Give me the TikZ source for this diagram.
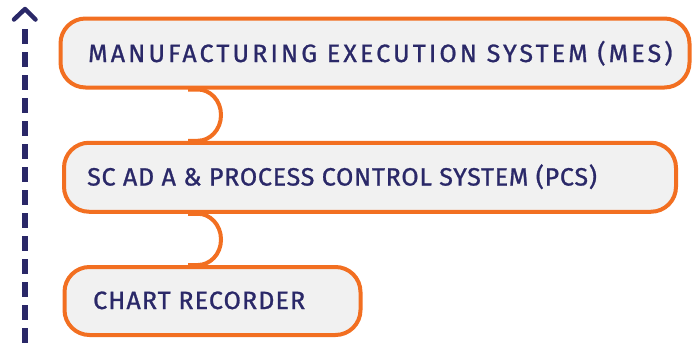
\documentclass[tikz,border=0pt]{standalone}
\usepackage{fontspec}
\setmainfont{Fira Sans}[FakeBold=0.8]
\usetikzlibrary{calc}
\definecolor{navy}{HTML}{2A2868}
\definecolor{brand}{HTML}{F26F21}
\definecolor{boxfill}{HTML}{F1F1F1}
\tikzset{
  box/.style={draw=brand, fill=boxfill, line width=4pt, rounded corners=25pt, inner sep=0pt, minimum height=69pt},
  label/.style={anchor=base west, inner sep=0pt, text=navy},
  link/.style={draw=brand, line width=4pt},
  axis/.style={draw=navy, line width=6pt, dash pattern=on 15pt off 8pt},
  tip/.style={draw=navy, line width=4.5pt, line cap=round, line join=round}
}
\newfontfamily\fmes{Fira Sans}[FakeBold=1, LetterSpace=12.6]
\newfontfamily\fpcs{Fira Sans}[FakeBold=1, LetterSpace=3.1]
\newfontfamily\fchart{Fira Sans}[FakeBold=1, LetterSpace=4.6]
\begin{document}
\begin{tikzpicture}[x=1pt,y=-1pt]
\useasboundingbox (0,0) rectangle (697,343);
% boxes
\node[box, minimum width=629pt] (b1) at (375,53) {};
\node[box, minimum width=612pt] (b2) at (370,177.25) {};
\node[box, minimum width=296pt, minimum height=68pt] (b3) at (212.5,301) {};
% connector points
\coordinate (s1) at ($(b1.south west)+(139.5,0)$);
\coordinate (k1) at (221,115);
\coordinate (e1) at ($(b2.north west)+(136,0)$);
\coordinate (s2) at ($(b2.south west)+(136,0)$);
\coordinate (k2) at (221,239.5);
\coordinate (e2) at ($(b3.north west)+(135.5,0)$);
\path[link] ($(s1)+(-10,0)$) -- (s1) .. controls +(11.6,0) and +(0,-15.2) .. (k1)
   .. controls +(0,15.2) and +(11.6,0) .. (e1) -- ($(e1)+(-10,0)$);
\path[link] ($(s2)+(-10,0)$) -- (s2) .. controls +(11.6,0) and +(0,-15.2) .. (k2)
   .. controls +(0,15.2) and +(11.6,0) .. (e2) -- ($(e2)+(-10,0)$);
% labels
\node[label, font=\fmes\fontsize{25}{25}\selectfont] (t1) at (88,62) {MANUFACTURING EXECUTION SYSTEM (MES)};
\node[label, font=\fpcs\fontsize{25}{25}\selectfont] (t2) at (87,185.5) {SC AD A \& PROCESS CONTROL SYSTEM (PCS)};
\node[label, font=\fchart\fontsize{25}{25}\selectfont] (t3) at (93,309) {CHART RECORDER};
% axis
\coordinate (axtop) at (25,29);
\coordinate (axbot) at (25,343);
\coordinate (chl) at (14,19.5);
\coordinate (chp) at (25,9);
\coordinate (chr) at (35.5,19.5);
\path[axis] (axtop) -- (axbot);
\path[tip] (chl) -- (chp) -- (chr);
\end{tikzpicture}
\end{document}
